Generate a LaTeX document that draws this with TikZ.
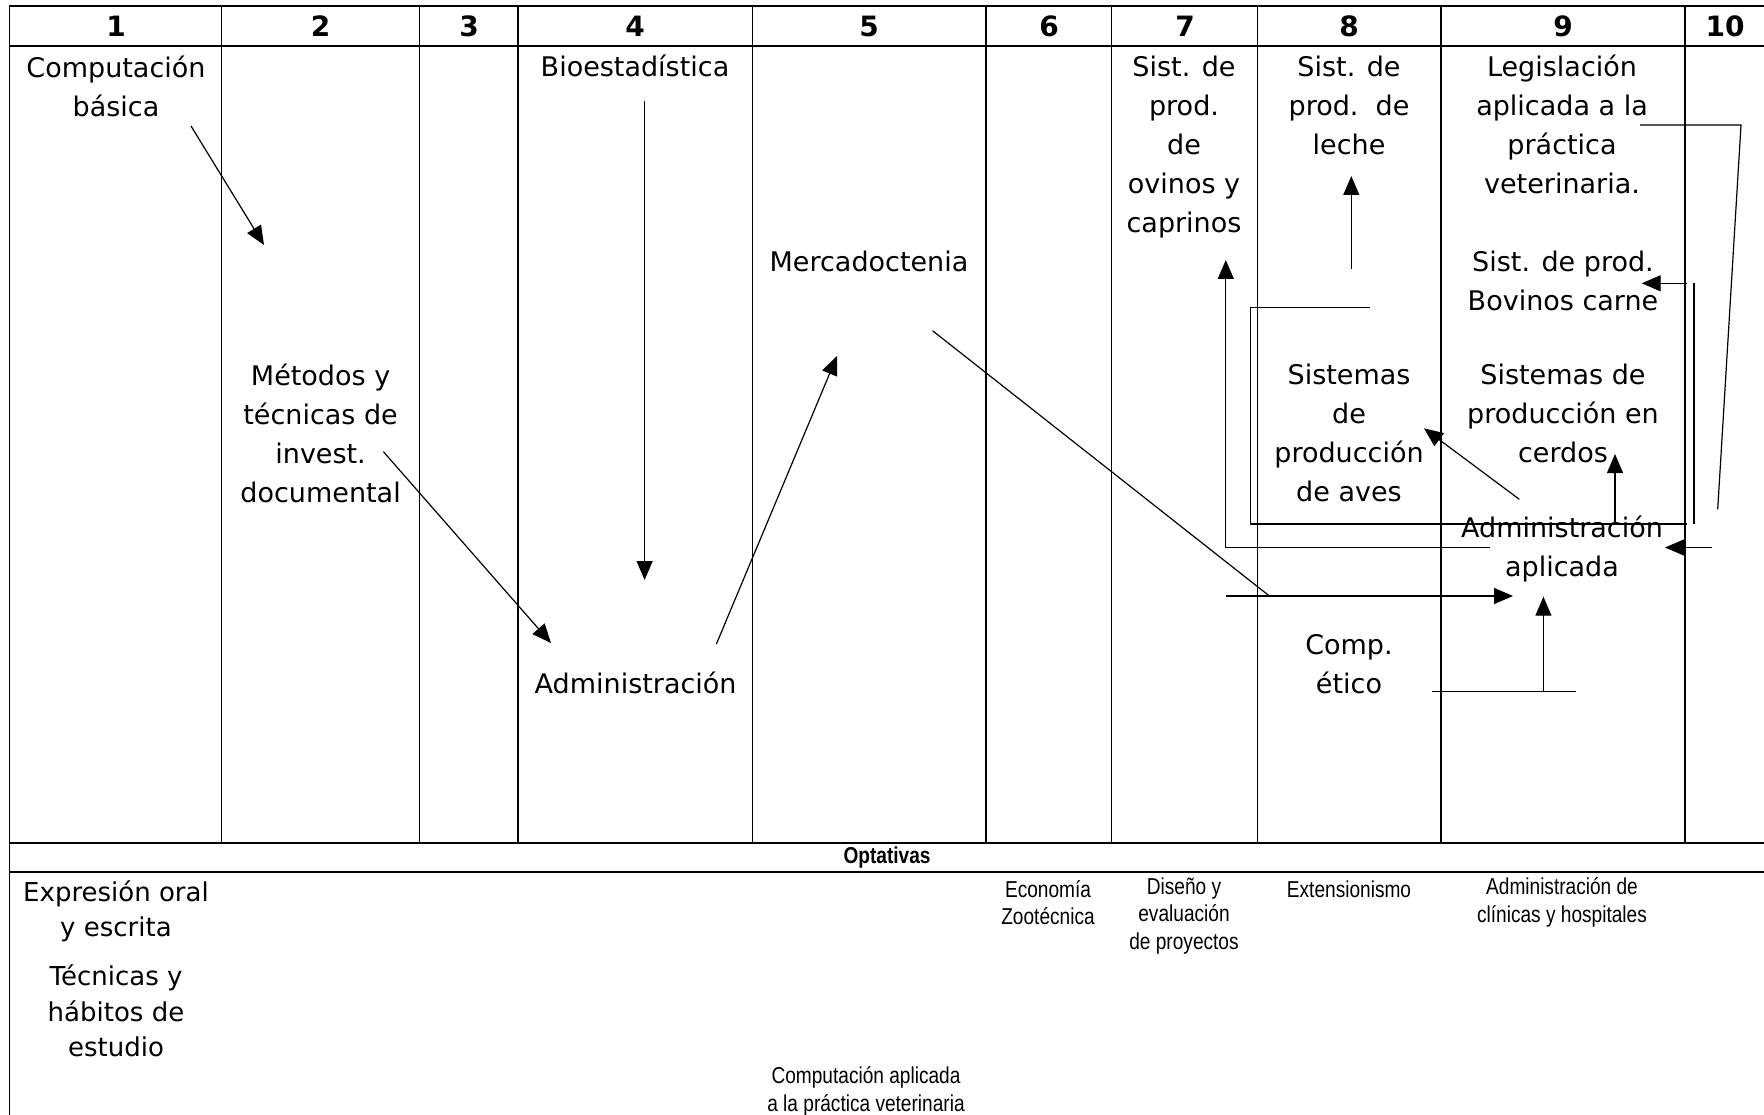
\documentclass[tikz,border=0pt]{standalone}
\usepackage{fontspec}
\setmainfont{DejaVu Sans}
\newfontfamily\narrowfont{Liberation Sans}[FakeStretch=0.83]
\usetikzlibrary{arrows.meta}
\begin{document}
\begin{tikzpicture}[x=1pt,y=-1pt,
  tline/.style={line width=2pt},
  vline/.style={line width=1.5pt},
  conn/.style={line width=1.2pt},
  arr/.style={conn,-{Triangle[length=19pt,width=16pt]}},
  big/.style={font=\fontsize{27}{39}\selectfont, align=center, inner sep=0pt},
  bigb/.style={font=\fontsize{26}{35.5}\selectfont, align=center, inner sep=0pt},
  num/.style={font=\fontsize{28}{30}\selectfont\bfseries, inner sep=0pt},
  small/.style={font=\narrowfont\fontsize{23}{27.5}\selectfont, align=center, inner sep=0pt},
  smallb/.style={font=\narrowfont\fontsize{23}{27.5}\selectfont\bfseries, inner sep=0pt},
]
\useasboundingbox (0,0) rectangle (1764,1115);
\fill[white] (0,0) rectangle (1764,1115);

% table
\draw[tline] (9.3,5.7) -- (1764,5.7);
\draw[tline] (9.3,45.7) -- (1764,45.7);
\draw[tline] (9.3,843.3) -- (1764,843.3);
\draw[tline] (9.3,872.3) -- (1764,872.3);
\draw[vline] (9.3,4.7) -- (9.3,1115);
\foreach \x in {221.5,419.6,518,752.5,986,1111.7,1257.7,1441,1685}
  \draw[vline] (\x,5.7) -- (\x,843.3);

% header numbers
\node[num] (h1) at (116,26) {1};
\node[num] (h2) at (320.5,26) {2};
\node[num] (h3) at (469,26) {3};
\node[num] (h4) at (635,26) {4};
\node[num] (h5) at (869,26) {5};
\node[num] (h6) at (1049,26) {6};
\node[num] (h7) at (1185,26) {7};
\node[num] (h8) at (1349,26) {8};
\node[num] (h9) at (1563,26) {9};
\node[num] (h10) at (1725,26) {10};

% subjects
\node[big] (comp) at (116,86) {Computación\\básica};
\node[big] (bio) at (635,66) {Bioestadística};
\node[big] (ovi) at (1184,147) {Sist. de\\prod.\\de\\ovinos y\\caprinos};
\node[big] (leche) at (1349,105) {Sist. de\\prod.\ \ de\\leche};
\node[big] (legis) at (1562,124.5) {Legislación\\aplicada a la\\práctica\\veterinaria.};
\node[big] (merc) at (869,261) {Mercadoctenia};
\node[big] (bov) at (1563,280.5) {Sist. de prod.\\Bovinos carne};
\node[big] (met) at (320.6,433) {Métodos y\\técnicas de\\invest.\\documental};
\node[big] (aves) at (1349,433) {Sistemas\\de\\producción\\de aves};
\node[big] (cerdos) at (1563,413) {Sistemas de\\producción en\\cerdos};
\node[big] (adap) at (1562,549) {Administración\\aplicada};
\node[big] (etico) at (1349,664) {Comp.\\ético};
\node[big] (admin) at (635.6,683) {Administración};

% optativas
\node[smallb] (opt) at (887,858) {Optativas};
\node[bigb] (expr) at (116,911.5) {Expresión oral\\y escrita};
\node[bigb] (tec) at (116,1011) {Técnicas y\\hábitos de\\estudio};
\node[small] (econ) at (1048,902.5) {Economía\\Zootécnica};
\node[small] (dis) at (1184,916) {Diseño y\\evaluación\\de proyectos};
\node[small] (ext) at (1349,889) {Extensionismo};
\node[small] (adcl) at (1562,902.5) {Administración de\\clínicas y hospitales};
\node[small] (cpap) at (866,1091.5) {Computación aplicada\\a la práctica veterinaria};

% connector points
\coordinate (a1s) at (191,126);   \coordinate (a1e) at (264,245);
\coordinate (a2s) at (644.6,101); \coordinate (a2e) at (644.6,580);
\coordinate (a3s) at (383.4,451.7); \coordinate (a3e) at (551,643);
\coordinate (a4s) at (716.4,644); \coordinate (a4e) at (837,356);
\coordinate (a5s) at (932.6,330.75); \coordinate (a5m) at (1269.4,596);
\coordinate (a5h) at (1225.8,596); \coordinate (a5e) at (1513,596);
\coordinate (a6s) at (1431.6,691.7); \coordinate (a6t) at (1575.6,691.7);
\coordinate (a6m) at (1543.4,691.7); \coordinate (a6e) at (1543.4,596.7);
\coordinate (a7s) at (1615,524); \coordinate (a7e) at (1615,454);
\coordinate (a8s) at (1519.3,499.3); \coordinate (a8e) at (1424,428.3);
\coordinate (a9s) at (1489.6,547.7); \coordinate (a9m) at (1225.8,547.7); \coordinate (a9e) at (1225.8,260);
\coordinate (a10s) at (1370,307.7); \coordinate (a10m1) at (1250.3,307.7);
\coordinate (a10m2) at (1250.3,524); \coordinate (a10m3) at (1687,524);
\coordinate (a10v1) at (1694,524); \coordinate (a10v2) at (1694,283.3);
\coordinate (a10a) at (1687,283.3); \coordinate (a10b) at (1641.7,283.3);
\coordinate (a11s) at (1351.3,269); \coordinate (a11e) at (1351.3,176);
\coordinate (a12s) at (1640,125); \coordinate (a12m) at (1741,125); \coordinate (a12e) at (1717.7,509.3);
\coordinate (a12a) at (1711.7,547.5); \coordinate (a12b) at (1665,547.5);

% connectors
\draw[arr] (a1s) -- (a1e);
\draw[arr] (a2s) -- (a2e);
\draw[arr] (a3s) -- (a3e);
\draw[arr] (a4s) -- (a4e);
\draw[conn] (a5s) -- (a5m);
\draw[arr] (a5h) -- (a5e);
\draw[conn] (a6s) -- (a6t);
\draw[arr] (a6m) -- (a6e);
\draw[arr] (a7s) -- (a7e);
\draw[arr] (a8s) -- (a8e);
\draw[arr] (a9s) -- (a9m) -- (a9e);
\draw[conn] (a10s) -- (a10m1) -- (a10m2) -- (a10m3);
\draw[conn] (a10v1) -- (a10v2);
\draw[arr] (a10a) -- (a10b);
\draw[arr] (a11s) -- (a11e);
\draw[conn] (a12s) -- (a12m) -- (a12e);
\draw[arr] (a12a) -- (a12b);
\end{tikzpicture}
\end{document}
